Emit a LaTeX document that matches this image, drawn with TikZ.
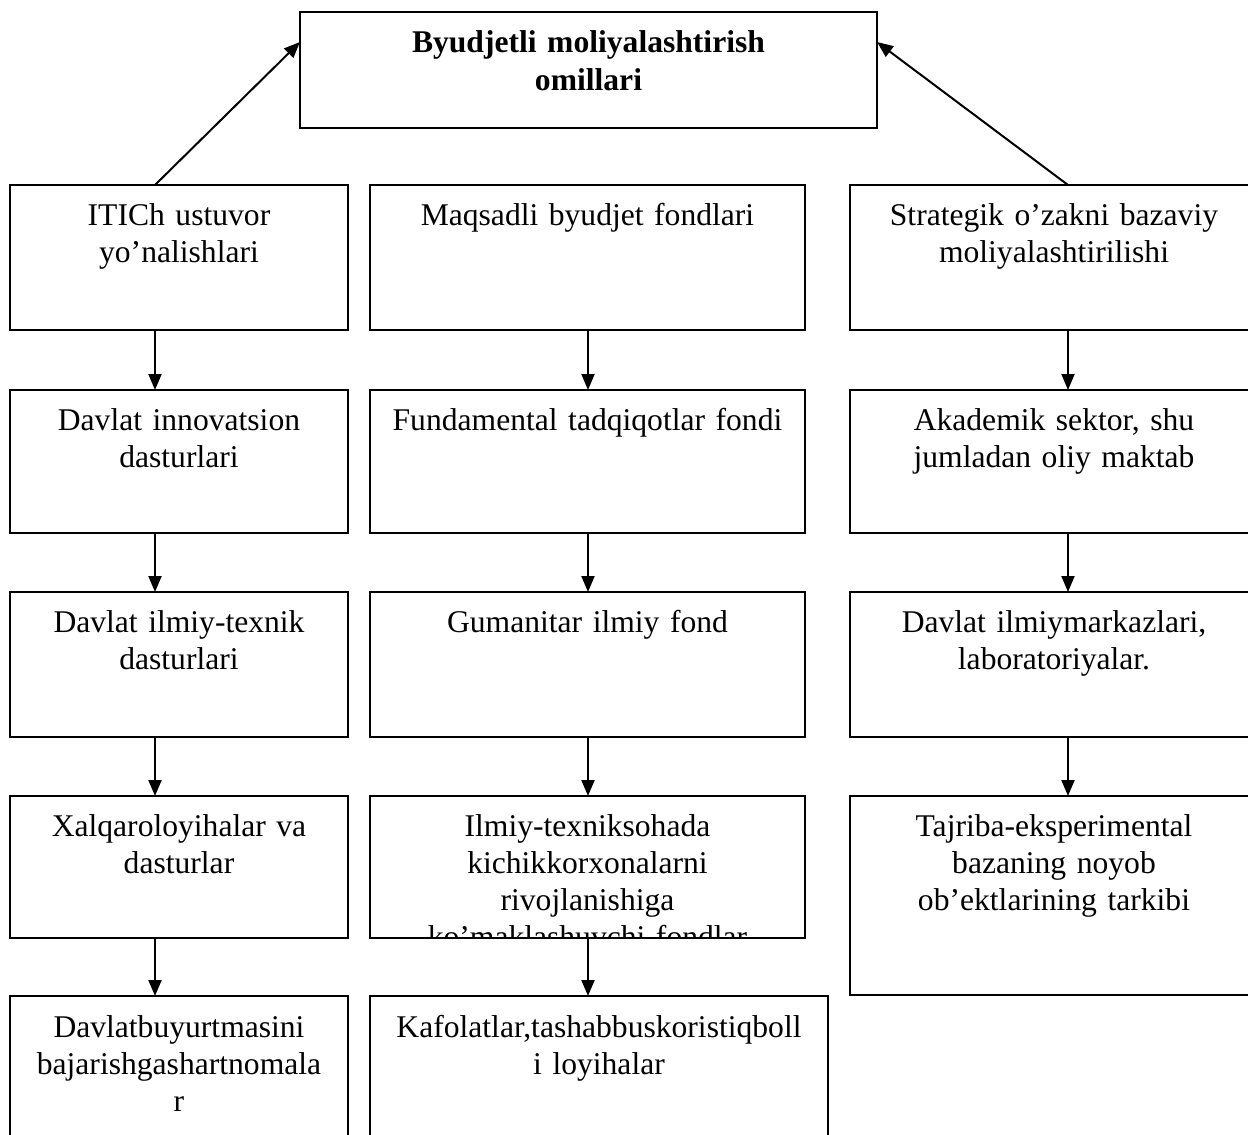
\documentclass[tikz,border=0pt]{standalone}
\usepackage{fontspec}
\setmainfont{Liberation Serif}
\usetikzlibrary{arrows.meta,calc}
\tikzset{
  boxst/.style={draw, line width=1pt, inner sep=0pt, outer sep=0pt, rectangle},
  txt/.style={anchor=base, align=center, inner sep=0pt,
    font=\fontsize{15.8pt}{18.5pt}\selectfont},
  arr/.style={line width=1pt, -{Triangle[length=8pt,width=6.5pt]}}
}
\begin{document}
\begin{tikzpicture}[x=0.5pt,y=-0.5pt]
\clip (0,0) rectangle (1248,1135);
\fill[white] (0,0) rectangle (1248,1135);
% top box
\node[boxst, minimum width=288.5pt, minimum height=58pt] (top) at (588.5,70) {};
\node[txt, text width=280pt, font=\fontsize{15.8pt}{18.5pt}\selectfont\bfseries] (topt) at ($(top.north)+(0,41)$) {Byudjetli moliyalashtirish\\omillari};
% left column
\node[boxst, minimum width=169pt, minimum height=72.5pt] (l1) at (179,257.5) {};
\node[boxst, minimum width=169pt, minimum height=71.5pt] (l2) at (179,461.5) {};
\node[boxst, minimum width=169pt, minimum height=72.5pt] (l3) at (179,664.5) {};
\node[boxst, minimum width=169pt, minimum height=71pt] (l4) at (179,867) {};
\node[boxst, minimum width=169pt, minimum height=77pt] (l5) at (179,1073) {};
\node[txt, text width=165pt] (l1t) at ($(l1.north)+(0,40)$) {ITICh ustuvor\\yo’nalishlari};
\node[txt, text width=165pt] (l2t) at ($(l2.north)+(0,40)$) {Davlat innovatsion\\dasturlari};
\node[txt, text width=165pt] (l3t) at ($(l3.north)+(0,40)$) {Davlat ilmiy-texnik\\dasturlari};
\node[txt, text width=165pt] (l4t) at ($(l4.north)+(0,40)$) {Xalqaroloyihalar va\\dasturlar};
\node[txt, text width=165pt] (l5t) at ($(l5.north)+(0,41)$) {Davlatbuyurtmasini\\bajarishgashartnomala\\r};
% middle column
\node[boxst, minimum width=217.5pt, minimum height=72.5pt] (m1) at (587.5,257.5) {};
\node[boxst, minimum width=217.5pt, minimum height=71.5pt] (m2) at (587.5,461.5) {};
\node[boxst, minimum width=217.5pt, minimum height=72.5pt] (m3) at (587.5,664.5) {};
\node[boxst, minimum width=217.5pt, minimum height=71pt] (m4) at (587.5,867) {};
\node[boxst, minimum width=229pt, minimum height=77pt] (m5) at (599,1073) {};
\node[txt, text width=212pt] (m1t) at ($(m1.north)+(0,40)$) {Maqsadli byudjet fondlari};
\node[txt, text width=212pt] (m2t) at ($(m2.north)+(0,40)$) {Fundamental tadqiqotlar fondi};
\node[txt, text width=212pt] (m3t) at ($(m3.north)+(0,40)$) {Gumanitar ilmiy fond};
\begin{scope}
\clip (m4.south west) rectangle (m4.north east);
\node[txt, text width=212pt] (m4t) at ($(m4.north)+(0,40)$) {Ilmiy-texniksohada\\kichikkorxonalarni\\rivojlanishiga\\ko’maklashuvchi fondlar};
\end{scope}
\node[boxst, minimum width=217.5pt, minimum height=71pt] at (m4) {};
\node[txt, text width=226pt] (m5t) at ($(m5.north)+(0,41)$) {Kafolatlar,tashabbuskoristiqboll\\i loyihalar};
% right column
\node[boxst, minimum width=204pt, minimum height=72.5pt] (r1) at (1054,257.5) {};
\node[boxst, minimum width=204pt, minimum height=71.5pt] (r2) at (1054,461.5) {};
\node[boxst, minimum width=204pt, minimum height=72.5pt] (r3) at (1054,664.5) {};
\node[boxst, minimum width=204pt, minimum height=99.5pt] (r4) at (1054,895.5) {};
\node[txt, text width=200pt] (r1t) at ($(r1.north)+(0,40)$) {Strategik o’zakni bazaviy\\moliyalashtirilishi};
\node[txt, text width=200pt] (r2t) at ($(r2.north)+(0,40)$) {Akademik sektor, shu\\jumladan oliy maktab};
\node[txt, text width=200pt] (r3t) at ($(r3.north)+(0,40)$) {Davlat ilmiymarkazlari,\\laboratoriyalar.};
\node[txt, text width=200pt] (r4t) at ($(r4.north)+(0,40)$) {Tajriba-eksperimental\\bazaning noyob\\ob’ektlarining tarkibi};
% arrow columns
\coordinate (lx) at (155,0);
\coordinate (mx) at (588,0);
\coordinate (rx) at (1068,0);
\coordinate (ty) at (0,42);
% arrows to top
\draw[arr] (l1.north -| lx) -- (top.west |- ty);
\draw[arr] (r1.north -| rx) -- (top.east |- ty);
% vertical arrows
\draw[arr] (l1.south -| lx) -- (l2.north -| lx);
\draw[arr] (l2.south -| lx) -- (l3.north -| lx);
\draw[arr] (l3.south -| lx) -- (l4.north -| lx);
\draw[arr] (l4.south -| lx) -- (l5.north -| lx);
\draw[arr] (m1.south -| mx) -- (m2.north -| mx);
\draw[arr] (m2.south -| mx) -- (m3.north -| mx);
\draw[arr] (m3.south -| mx) -- (m4.north -| mx);
\draw[arr] (m4.south -| mx) -- (m5.north -| mx);
\draw[arr] (r1.south -| rx) -- (r2.north -| rx);
\draw[arr] (r2.south -| rx) -- (r3.north -| rx);
\draw[arr] (r3.south -| rx) -- (r4.north -| rx);
\end{tikzpicture}
\end{document}
